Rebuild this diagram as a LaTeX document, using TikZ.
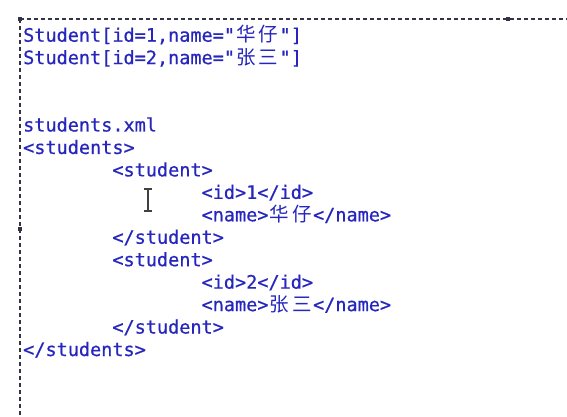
\documentclass[tikz,border=0pt]{standalone}
\usepackage{fontspec}
\newfontfamily\monofnt[FakeBold=0.6]{DejaVu Sans Mono}
\newfontfamily\cjkfnt{Noto Sans CJK SC}
\newlength\mycw
\setlength\mycw{11.15pt}
\newcommand\cj[1]{\makebox[2\mycw][c]{\cjkfnt\fontsize{19.5}{19.5}\selectfont #1}}
\definecolor{codeblue}{RGB}{38,38,190}
\definecolor{frame}{RGB}{50,52,70}
\tikzset{
  codeline/.style={anchor=base west, inner sep=0pt, text=codeblue,
    font=\monofnt\fontsize{18.52}{22}\selectfont},
  framedash/.style={draw=frame, line width=1.3pt, dash pattern=on 4pt off 3pt},
  handle/.style={fill=frame, draw=none, minimum size=3.4pt, inner sep=0pt},
  cursor/.style={draw=black!75, line width=1.1pt}
}
\begin{document}
\begin{tikzpicture}[x=1pt,y=-1pt]
\useasboundingbox[fill=white] (0,0) rectangle (567,417);
% selection frame
\draw[framedash] (20,19) -- (567,19);
\draw[framedash] (20,19) -- (20,417);
\node[handle] (h1) at (20,19) {};
\node[handle] (h2) at (508,19) {};
\node[handle] (h3) at (20,229) {};
% code lines
\def\xa{23}
\def\dy{22.45}
\node[codeline] (l0) at (\xa, 41.7) {Student[id=1,name="\cj{华}\cj{仔}"]};
\node[codeline] (l1) at (\xa, 41.7+\dy) {Student[id=2,name="\cj{张}\cj{三}"]};
\node[codeline] (l4) at (\xa, 41.7+4*\dy) {students.xml};
\node[codeline] (l5) at (\xa, 41.7+5*\dy) {<students>};
\node[codeline] (l6) at (\xa+8*11.15, 41.7+6*\dy) {<student>};
\node[codeline] (l7) at (\xa+16*11.15, 41.7+7*\dy) {<id>1</id>};
\node[codeline] (l8) at (\xa+16*11.15, 41.7+8*\dy) {<name>\cj{华}\cj{仔}</name>};
\node[codeline] (l9) at (\xa+8*11.15, 41.7+9*\dy) {</student>};
\node[codeline] (l10) at (\xa+8*11.15, 41.7+10*\dy) {<student>};
\node[codeline] (l11) at (\xa+16*11.15, 41.7+11*\dy) {<id>2</id>};
\node[codeline] (l12) at (\xa+16*11.15, 41.7+12*\dy) {<name>\cj{张}\cj{三}</name>};
\node[codeline] (l13) at (\xa+8*11.15, 41.7+13*\dy) {</student>};
\node[codeline] (l14) at (\xa, 41.7+14*\dy) {</students>};
% I-beam mouse cursor
\draw[cursor] (148,189) -- (148,211);
\draw[cursor] (144,189) -- (152,189);
\draw[cursor] (144,211) -- (152,211);
\end{tikzpicture}
\end{document}
